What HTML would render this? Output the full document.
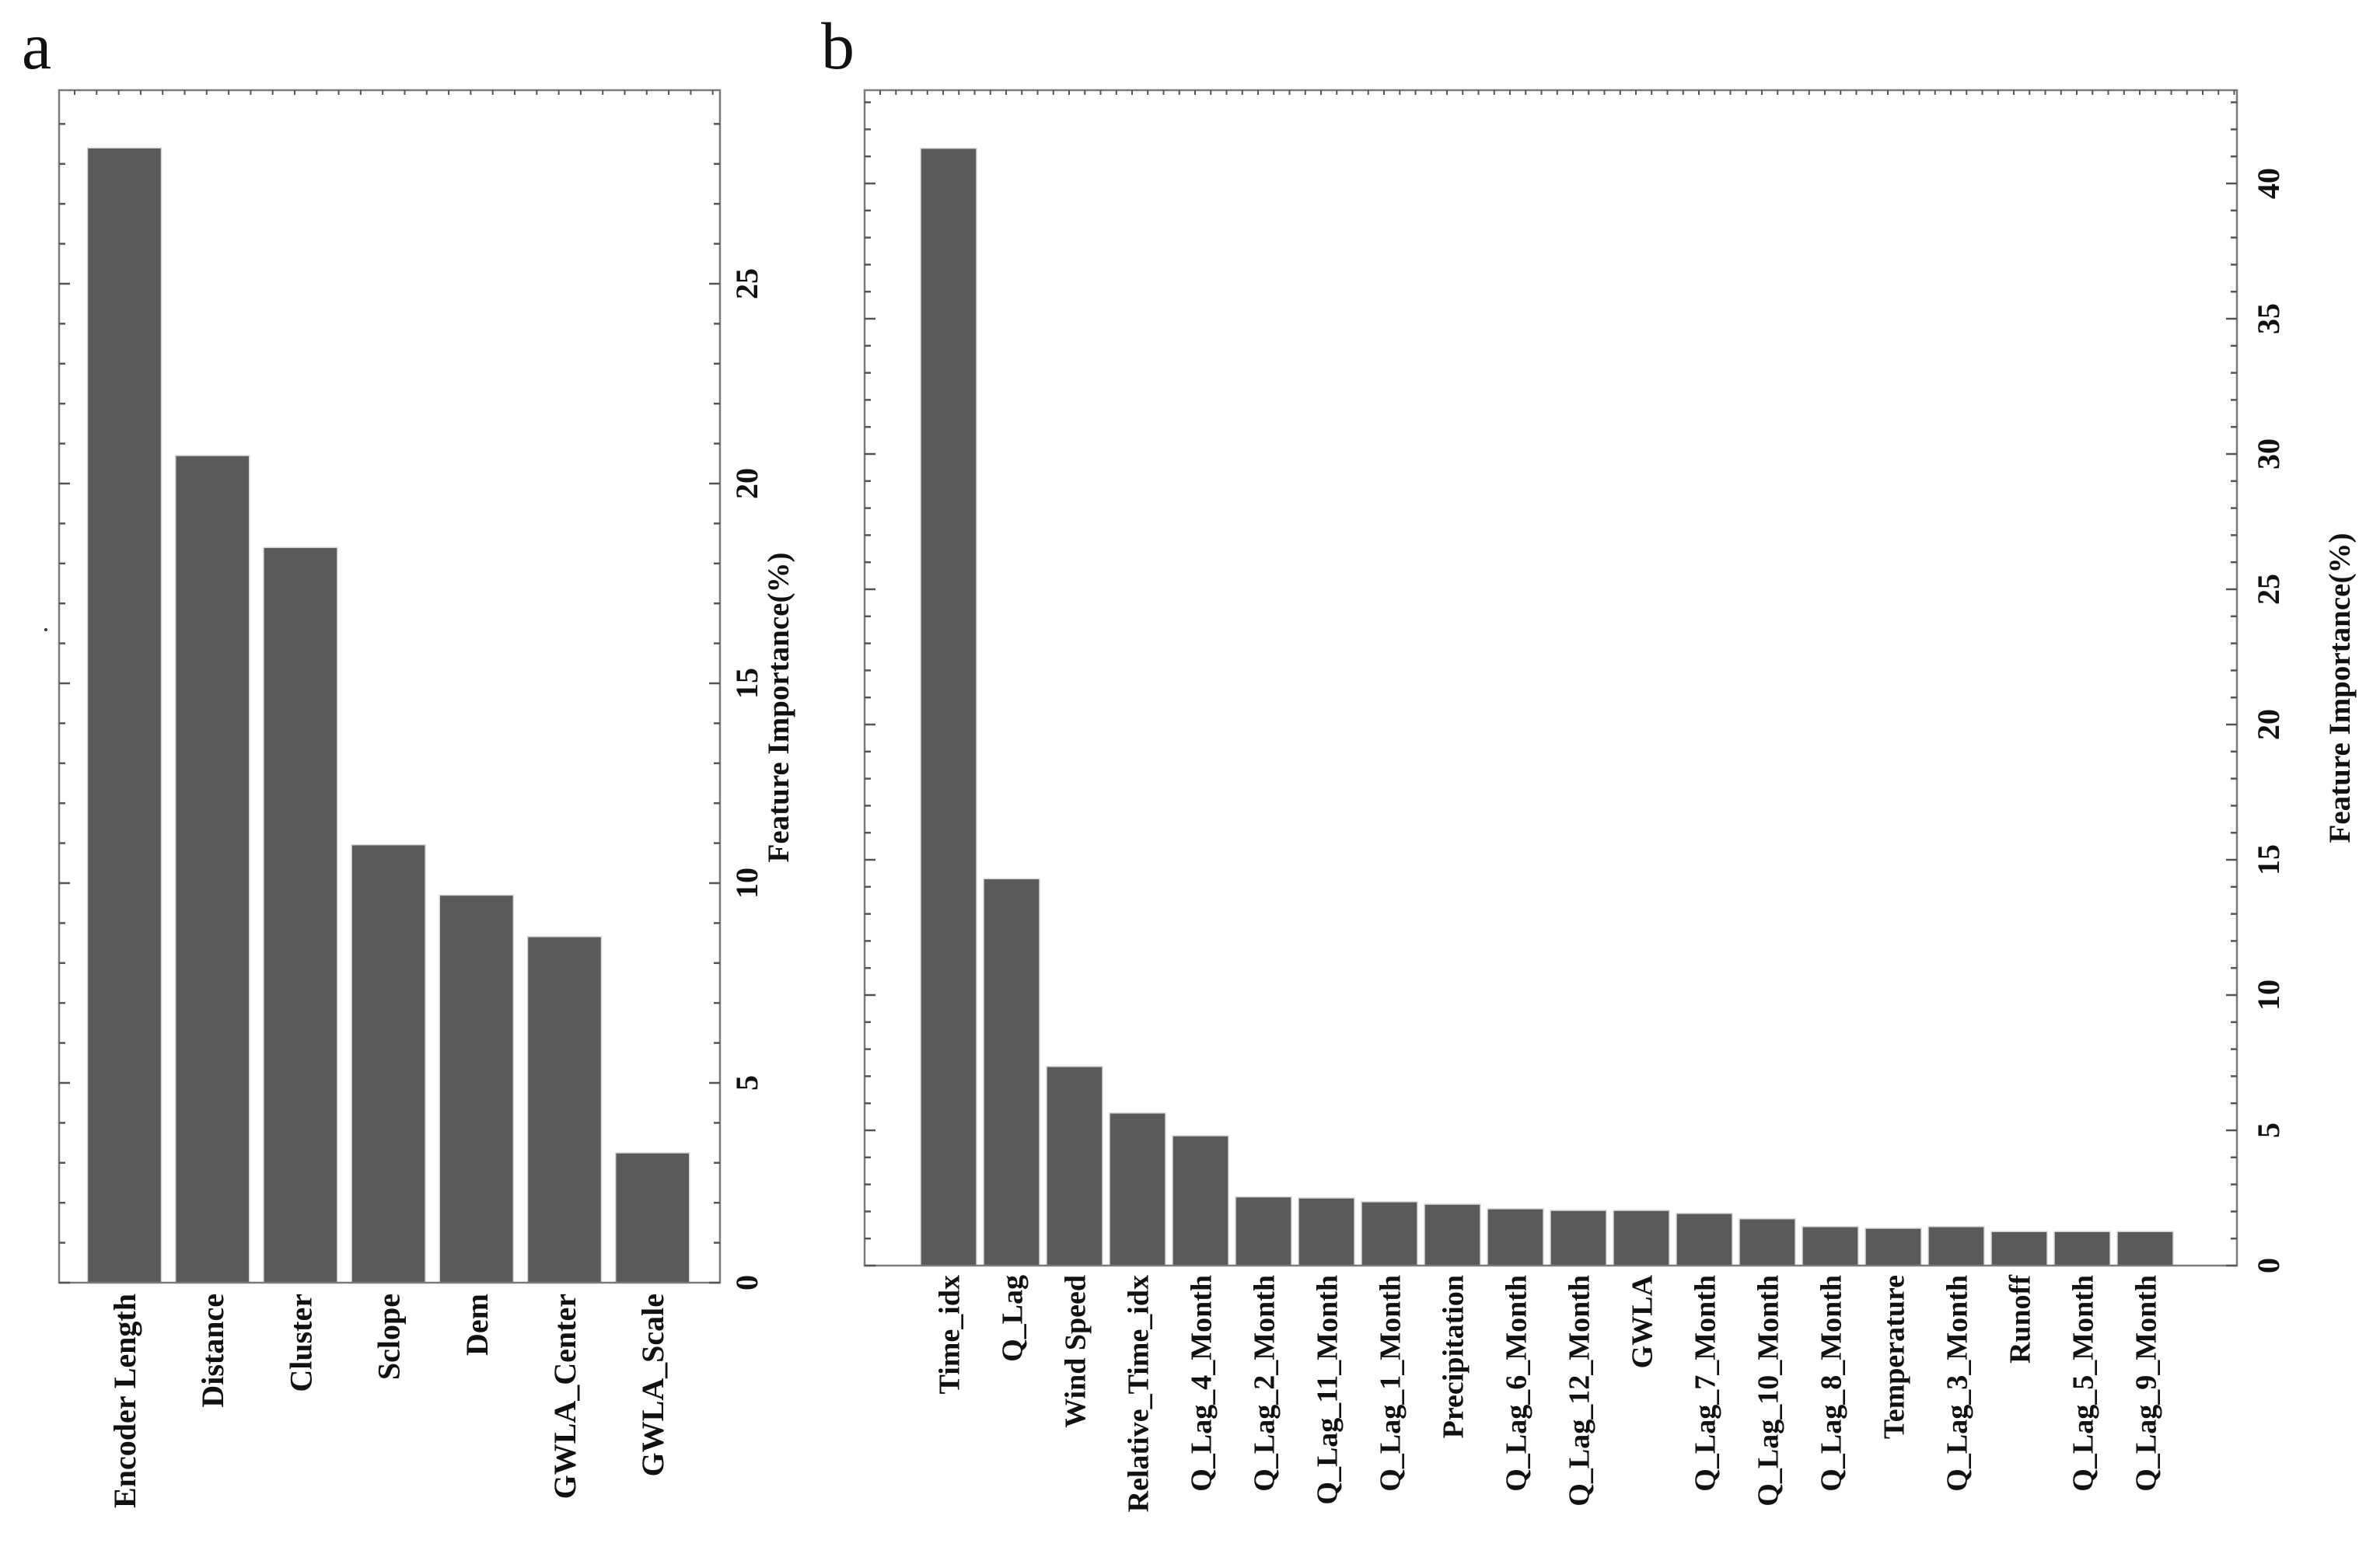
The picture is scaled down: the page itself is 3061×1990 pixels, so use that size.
<!DOCTYPE html>
<html><head><meta charset="utf-8"><style>
html,body{margin:0;padding:0;background:#fff;}
svg{display:block;}
text{font-family:"Liberation Serif",serif;font-weight:bold;fill:#111;}
</style></head><body>
<svg id="chart" width="3061" height="1990" viewBox="0 0 3061 1990" xmlns="http://www.w3.org/2000/svg">
<text x="28" y="88" style="font-weight:normal;font-size:86px">a</text>
<text x="1056" y="88" style="font-weight:normal;font-size:86px">b</text>
<circle cx="59" cy="810" r="2" fill="#333"/>
</svg>
<script>
const catsA = ["Encoder Length","Distance","Cluster","Sclope","Dem","GWLA_Center","GWLA_Scale"];
const valsA = [28.4,20.7,18.4,10.96,9.7,8.66,3.25];
const ticksA = [0,5,10,15,20,25];
const catsB = ["Time_idx","Q_Lag","Wind Speed","Relative_Time_idx","Q_Lag_4_Month","Q_Lag_2_Month","Q_Lag_11_Month","Q_Lag_1_Month","Precipitation","Q_Lag_6_Month","Q_Lag_12_Month","GWLA","Q_Lag_7_Month","Q_Lag_10_Month","Q_Lag_8_Month","Temperature","Q_Lag_3_Month","Runoff","Q_Lag_5_Month","Q_Lag_9_Month"];
const valsB = [41.3,14.3,7.36,5.64,4.8,2.54,2.5,2.36,2.27,2.1,2.04,2.04,1.93,1.73,1.44,1.38,1.44,1.26,1.26,1.26];
const ticksB = [0,5,10,15,20,25,30,35,40];

const NS="http://www.w3.org/2000/svg";
const svg=document.getElementById('chart');
function mk(tag,attrs,parent){const e=document.createElementNS(NS,tag);for(const k in attrs)e.setAttribute(k,attrs[k]);(parent||svg).appendChild(e);return e;}

function panel(p){
  const g=mk('g',{});
  
  
  const y=v=>p.y0-v*p.ppu;
  const maxV=(p.y0-p.top)/p.ppu;
  // bars
  p.vals.forEach((v,i)=>{
    const cx=p.x0+p.step*i;
    const r=mk('rect',{x:cx-p.bw/2,y:y(v),width:p.bw,height:p.y0-y(v),fill:'#5a5a5a',stroke:'#d8d8d8','stroke-width':1.5},g);
    
    
    const t=mk('text',{x:0,y:0,'font-size':p.fs,'text-anchor':'end',transform:`translate(${cx+p.fs*0.35},${p.y0+p.lab}) rotate(-90)`},g);
    t.textContent=p.cats[i];
    
    
  });
  // frame
  const f=mk('rect',{x:p.left,y:p.top,width:p.right-p.left,height:p.y0-p.top,fill:'none',stroke:'#7a7a7a','stroke-width':2.5},g);
  
  
  // minor ticks each unit on left & right
  for(let v=0;v<=Math.floor(maxV);v++){
    const len=(v%5===0)?14:8;
    mk('line',{x1:p.right,x2:p.right-len,y1:y(v),y2:y(v),stroke:'#555','stroke-width':2.5},g);
    mk('line',{x1:p.left,x2:p.left+len,y1:y(v),y2:y(v),stroke:'#555','stroke-width':2.5},g);
  }
  // top ticks
  for(let x=p.left+20;x<p.right;x+=p.step/4){
    mk('line',{x1:x,x2:x,y1:p.top,y2:p.top+6,stroke:'#555','stroke-width':2},g);
  }
  // tick labels
  p.ticks.forEach(v=>{
    const t=mk('text',{x:0,y:0,'font-size':40,'text-anchor':'middle',transform:`translate(${p.tlx},${y(v)}) rotate(-90)`},g);
    t.textContent=v;
    
    
  });
  const tt=mk('text',{x:0,y:0,'font-size':39,'text-anchor':'middle',transform:`translate(${p.ttx},${p.tty}) rotate(-90)`},g);
  tt.textContent='Feature Importance(%)';
  
  
}

panel({name:'panel-a-chart',cats:catsA,vals:valsA,ticks:ticksA,left:76,right:926,top:116,y0:1650,ppu:51.4,x0:160,step:113.2,bw:95,fs:40,lab:14,tlx:974,ttx:1014,tty:910});
panel({name:'panel-b-chart',cats:catsB,vals:valsB,ticks:ticksB,left:1112,right:2877,top:116,y0:1628,ppu:34.8,x0:1220,step:81,bw:72,fs:38,lab:12,tlx:2931,ttx:3022,tty:885});
</script>
</body></html>
